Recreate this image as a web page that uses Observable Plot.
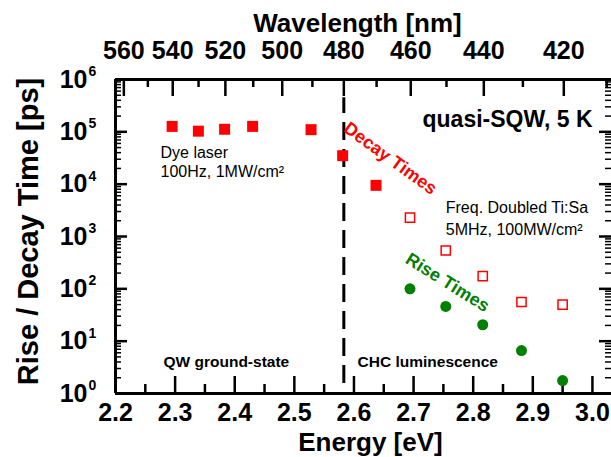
<!DOCTYPE html>
<html><head><meta charset="utf-8">
<script src="https://cdn.jsdelivr.net/npm/d3@7"></script>
<script src="https://cdn.jsdelivr.net/npm/@observablehq/plot@0.6"></script>
<style>html,body{margin:0;padding:0;background:#fff;overflow:hidden}</style>
</head><body><div id="chart"></div>
<script>
// ---- data ----
const decayDyeEnergy = [2.295, 2.339, 2.383, 2.430, 2.528, 2.581, 2.637];
const decayDyeTime   = [1.27e5, 1.03e5, 1.12e5, 1.27e5, 1.10e5, 3.5e4, 9.5e3];
const decayTiSaEnergy = [2.694, 2.754, 2.816, 2.881, 2.950];
const decayTiSaTime   = [2290, 540, 175, 56, 50];
const riseEnergy = [2.694, 2.754, 2.816, 2.881, 2.950];
const riseTime   = [100, 46, 20.6, 6.6, 1.77];

const energyMajor = [2.2, 2.3, 2.4, 2.5, 2.6, 2.7, 2.8, 2.9, 3.0];
const energyMinor = [2.25, 2.35, 2.45, 2.55, 2.65, 2.75, 2.85, 2.95];
const wavelengthMajor = [560, 540, 520, 500, 480, 460, 440, 420];
const wavelengthMinor = [550, 530, 510, 490, 470, 450, 430, 410];
const decades = [1, 10, 100, 1e3, 1e4, 1e5, 1e6];
const minorY = decades.slice(0, 6).flatMap(d => [2,3,4,5,6,7,8,9].map(m => m * d));
const hc = 1239.84; // eV*nm

const dividerEnergy = [2.583];
const dividerSpan = [1.55, 4.5e5];

const notesNormal = [
  {x: 2.2755, y: 3.1e4, t: "Dye laser"},
  {x: 2.2755, y: 1.35e4, t: "100Hz, 1MW/cm²"},
  {x: 2.754, y: 2765, t: "Freq. Doubled Ti:Sa"},
  {x: 2.754, y: 1050, t: "5MHz, 100MW/cm²"}
];
const notesBold = [
  {x: 2.2805, y: 3.14, t: "QW ground-state", s: 15.5},
  {x: 2.606, y: 3.14, t: "CHC luminescence", s: 15.5},
  {x: 2.715, y: 1.22e5, t: "quasi-SQW, 5 K", s: 23}
];
const seriesLabels = [
  {x: 2.661, y: 3.1e4, t: "Decay Times", c: "#ff0000", r: 36},
  {x: 2.757, y: 132, t: "Rise Times", c: "#008000", r: 32}
];

const decayDye = decayDyeEnergy.map((e, i) => ({e, t: decayDyeTime[i]}));
const decayTiSa = decayTiSaEnergy.map((e, i) => ({e, t: decayTiSaTime[i]}));
const rise = riseEnergy.map((e, i) => ({e, t: riseTime[i]}));

const RED = "#ff0000", GREEN = "#008000";
const bold = {fontWeight: "bold", fill: "black"};

const chart = Plot.plot({
  width: 611, height: 457,
  marginLeft: 115, marginRight: 0, marginTop: 79, marginBottom: 64,
  x: {type: "linear", domain: [2.2, 3.032], axis: null},
  y: {type: "log", domain: [1, 1e6], axis: null},
  style: {fontFamily: "'Liberation Sans', Arial, sans-serif", background: "white", overflow: "visible"},
  marks: [
    // ticks (inward)
    Plot.ruleX(energyMajor, {insetTop: 297, strokeWidth: 2.5}),
    Plot.ruleX(energyMinor, {insetTop: 305, strokeWidth: 2.5}),
    Plot.ruleX(wavelengthMajor, {x: d => hc / d, insetBottom: 297, strokeWidth: 2.5}),
    Plot.ruleX(wavelengthMinor, {x: d => hc / d, insetBottom: 306, strokeWidth: 2.5}),
    Plot.ruleY(decades, {insetRight: 484, strokeWidth: 2.5}),
    Plot.ruleY(minorY, {insetRight: 490, strokeWidth: 1.5}),
    Plot.ruleY(decades, {insetLeft: 484, strokeWidth: 2.5}),
    Plot.ruleY(minorY, {insetLeft: 490, strokeWidth: 1.5}),
    // frame
    Plot.ruleY([1], {strokeWidth: 3}),
    Plot.ruleY([1e6], {strokeWidth: 3}),
    Plot.ruleX([2.2], {strokeWidth: 3}),
    // divider
    Plot.ruleX(dividerEnergy, {y1: dividerSpan[0], y2: dividerSpan[1], strokeWidth: 3, strokeDasharray: "18,9"}),
    // tick labels
    Plot.text(energyMajor, {x: d => d, text: d => d.toFixed(1), frameAnchor: "bottom", dy: 10, lineAnchor: "top", fontSize: 25, ...bold}),
    Plot.text(wavelengthMajor, {x: d => hc / d, text: d => String(d), frameAnchor: "top", dy: -21, lineAnchor: "bottom", fontSize: 25, ...bold}),
    Plot.text(decades, {y: d => d, text: () => "10", frameAnchor: "left", dx: -28, textAnchor: "end", lineAnchor: "middle", fontSize: 25, ...bold}),
    Plot.text(decades, {y: d => d, text: d => String(Math.round(Math.log10(d))), frameAnchor: "left", dx: -27, dy: -8, textAnchor: "start", lineAnchor: "middle", fontSize: 14, ...bold}),
    // axis titles
    Plot.text(["Energy [eV]"], {text: d => d, frameAnchor: "bottom", dx: 7, dy: 57, lineAnchor: "bottom", fontSize: 26, ...bold}),
    Plot.text(["Wavelength [nm]"], {text: d => d, frameAnchor: "top", dx: -6, dy: -48, lineAnchor: "bottom", fontSize: 26, ...bold}),
    Plot.text(["Rise / Decay Time [ps]"], {text: d => d, frameAnchor: "left", dx: -78, dy: -5, rotate: -90, lineAnchor: "bottom", textAnchor: "middle", fontSize: 29, ...bold}),
    // data
    Plot.dot(decayDye, {x: "e", y: "t", symbol: "square", r: 6.2, fill: RED}),
    Plot.dot(decayTiSa, {x: "e", y: "t", symbol: "square", r: 5.2, fill: "white", stroke: RED, strokeWidth: 1.5}),
    Plot.dot(rise, {x: "e", y: "t", symbol: "circle", r: 5.5, fill: GREEN}),
    // annotations
    Plot.text(notesNormal, {x: "x", y: "y", text: "t", textAnchor: "start", lineAnchor: "bottom", fontSize: 16, fill: "black"}),
    Plot.text(notesBold, {x: "x", y: "y", text: "t", textAnchor: "start", lineAnchor: "bottom", fontSize: "s", fontWeight: "bold", fill: "black"}),
    Plot.text(seriesLabels, {x: "x", y: "y", text: "t", rotate: "r", fill: "c", textAnchor: "middle", lineAnchor: "middle", fontSize: 18, fontWeight: "bold"})
  ]
});
document.getElementById("chart").appendChild(chart);
</script>
</body></html>
